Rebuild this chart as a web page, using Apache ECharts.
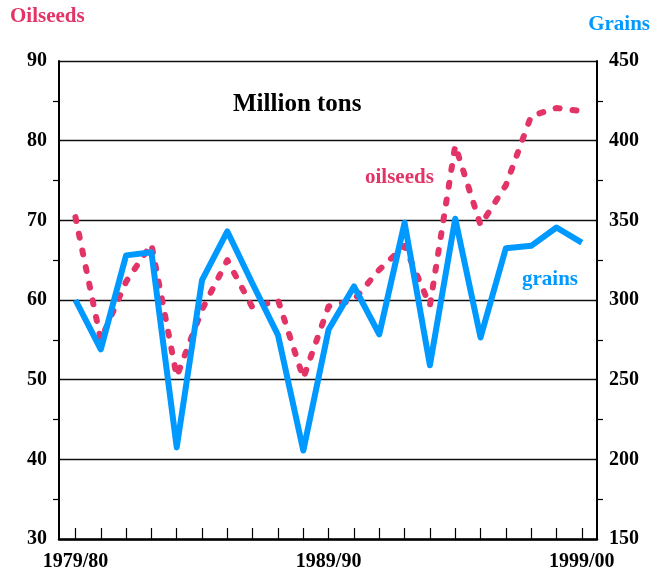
<!DOCTYPE html>
<html>
<head>
<meta charset="utf-8">
<script src="https://cdn.jsdelivr.net/npm/echarts@6/dist/echarts.min.js"></script>
<style>
  * { margin: 0; padding: 0; }
  body { background: #fff; }
  #main { width: 657px; height: 571px; }
</style>
</head>
<body>
<div id="main"></div>
<script>
// marketing years, 1979/80 .. 1999/00
var years = ['1979/80','1980/81','1981/82','1982/83','1983/84','1984/85','1985/86',
  '1986/87','1987/88','1988/89','1989/90','1990/91','1991/92','1992/93','1993/94',
  '1994/95','1995/96','1996/97','1997/98','1998/99','1999/00'];
var labelIdx = [0, 10, 20];

// million tons
var oilseeds = [70.4, 55.0, 62.3, 67.0, 50.4, 58.8, 65.0, 59.0, 60.0, 50.2, 59.2,
  60.0, 63.8, 66.8, 59.3, 79.4, 69.4, 74.4, 83.1, 84.1, 83.7];
var grains = [300, 269, 328, 330, 207.5, 312.5, 343, 310, 278, 205.5, 281.5,
  308.5, 278.5, 348.5, 259, 351, 276.5, 332.5, 334, 345.5, 336];

var pink = '#e23466';
var blue = '#0099ff';
var font = '"Liberation Serif", "DejaVu Serif", serif';

var chart = echarts.init(document.getElementById('main'));

function pairs(arr) {
  return arr.map(function (v, i) { return [i, v]; });
}
var tickIdx = years.map(function (y, i) { return i; });

chart.setOption({
  animation: false,
  grid: { left: 59, right: 60, top: 61, bottom: 32, outerBoundsMode: 'none' },
  xAxis: {
    type: 'value',
    min: -0.65,
    max: 20.6,
    axisLine: { onZero: false, lineStyle: { color: '#000', width: 2.5 } },
    axisTick: { customValues: tickIdx, inside: true, length: 11, lineStyle: { color: '#000', width: 1.2 } },
    axisLabel: {
      customValues: labelIdx,
      formatter: function (v) { return years[Math.round(v)]; },
      color: '#000', fontFamily: font, fontWeight: 'bold', fontSize: 20, margin: 13
    },
    splitLine: { show: false }
  },
  yAxis: [
    {
      type: 'value', min: 30, max: 90, interval: 10, position: 'left',
      axisLine: { show: true, onZero: false, lineStyle: { color: '#000', width: 2 } },
      axisTick: { show: false },
      minorTick: { show: true, splitNumber: 2, length: 6, lineStyle: { color: '#000', width: 1.2 } },
      axisLabel: { color: '#000', fontFamily: font, fontWeight: 'bold', fontSize: 20, margin: 12 },
      splitLine: { show: true, lineStyle: { color: '#111', width: 1.3 } }
    },
    {
      type: 'value', min: 150, max: 450, interval: 50, position: 'right',
      axisLine: { show: true, onZero: false, lineStyle: { color: '#000', width: 2 } },
      axisTick: { show: false },
      minorTick: { show: true, splitNumber: 2, length: 6, lineStyle: { color: '#000', width: 1.2 } },
      axisLabel: { color: '#000', fontFamily: font, fontWeight: 'bold', fontSize: 20, margin: 12 },
      splitLine: { show: false }
    }
  ],
  graphic: [
    { type: 'text', left: 10, top: 6, style: { text: 'Oilseeds', fill: pink, font: 'bold 21px ' + font } },
    { type: 'text', right: 7, top: 14, style: { text: 'Grains', fill: blue, font: 'bold 21px ' + font } },
    { type: 'text', left: 233, top: 92, style: { text: 'Million tons', fill: '#000', font: 'bold 25px ' + font } },
    { type: 'text', left: 365, top: 167, style: { text: 'oilseeds', fill: pink, font: 'bold 21px ' + font } },
    { type: 'text', left: 522, top: 269, style: { text: 'grains', fill: blue, font: 'bold 21px ' + font } }
  ],
  series: [
    {
      name: 'oilseeds', type: 'line', yAxisIndex: 0,
      data: pairs(oilseeds), showSymbol: false, symbol: 'none',
      lineStyle: { color: pink, width: 6, type: [4, 13], cap: 'round', join: 'round' },
      z: 3
    },
    {
      name: 'grains', type: 'line', yAxisIndex: 1,
      data: pairs(grains), showSymbol: false, symbol: 'none',
      lineStyle: { color: blue, width: 6, join: 'round' },
      z: 4
    }
  ]
});
</script>
</body>
</html>
